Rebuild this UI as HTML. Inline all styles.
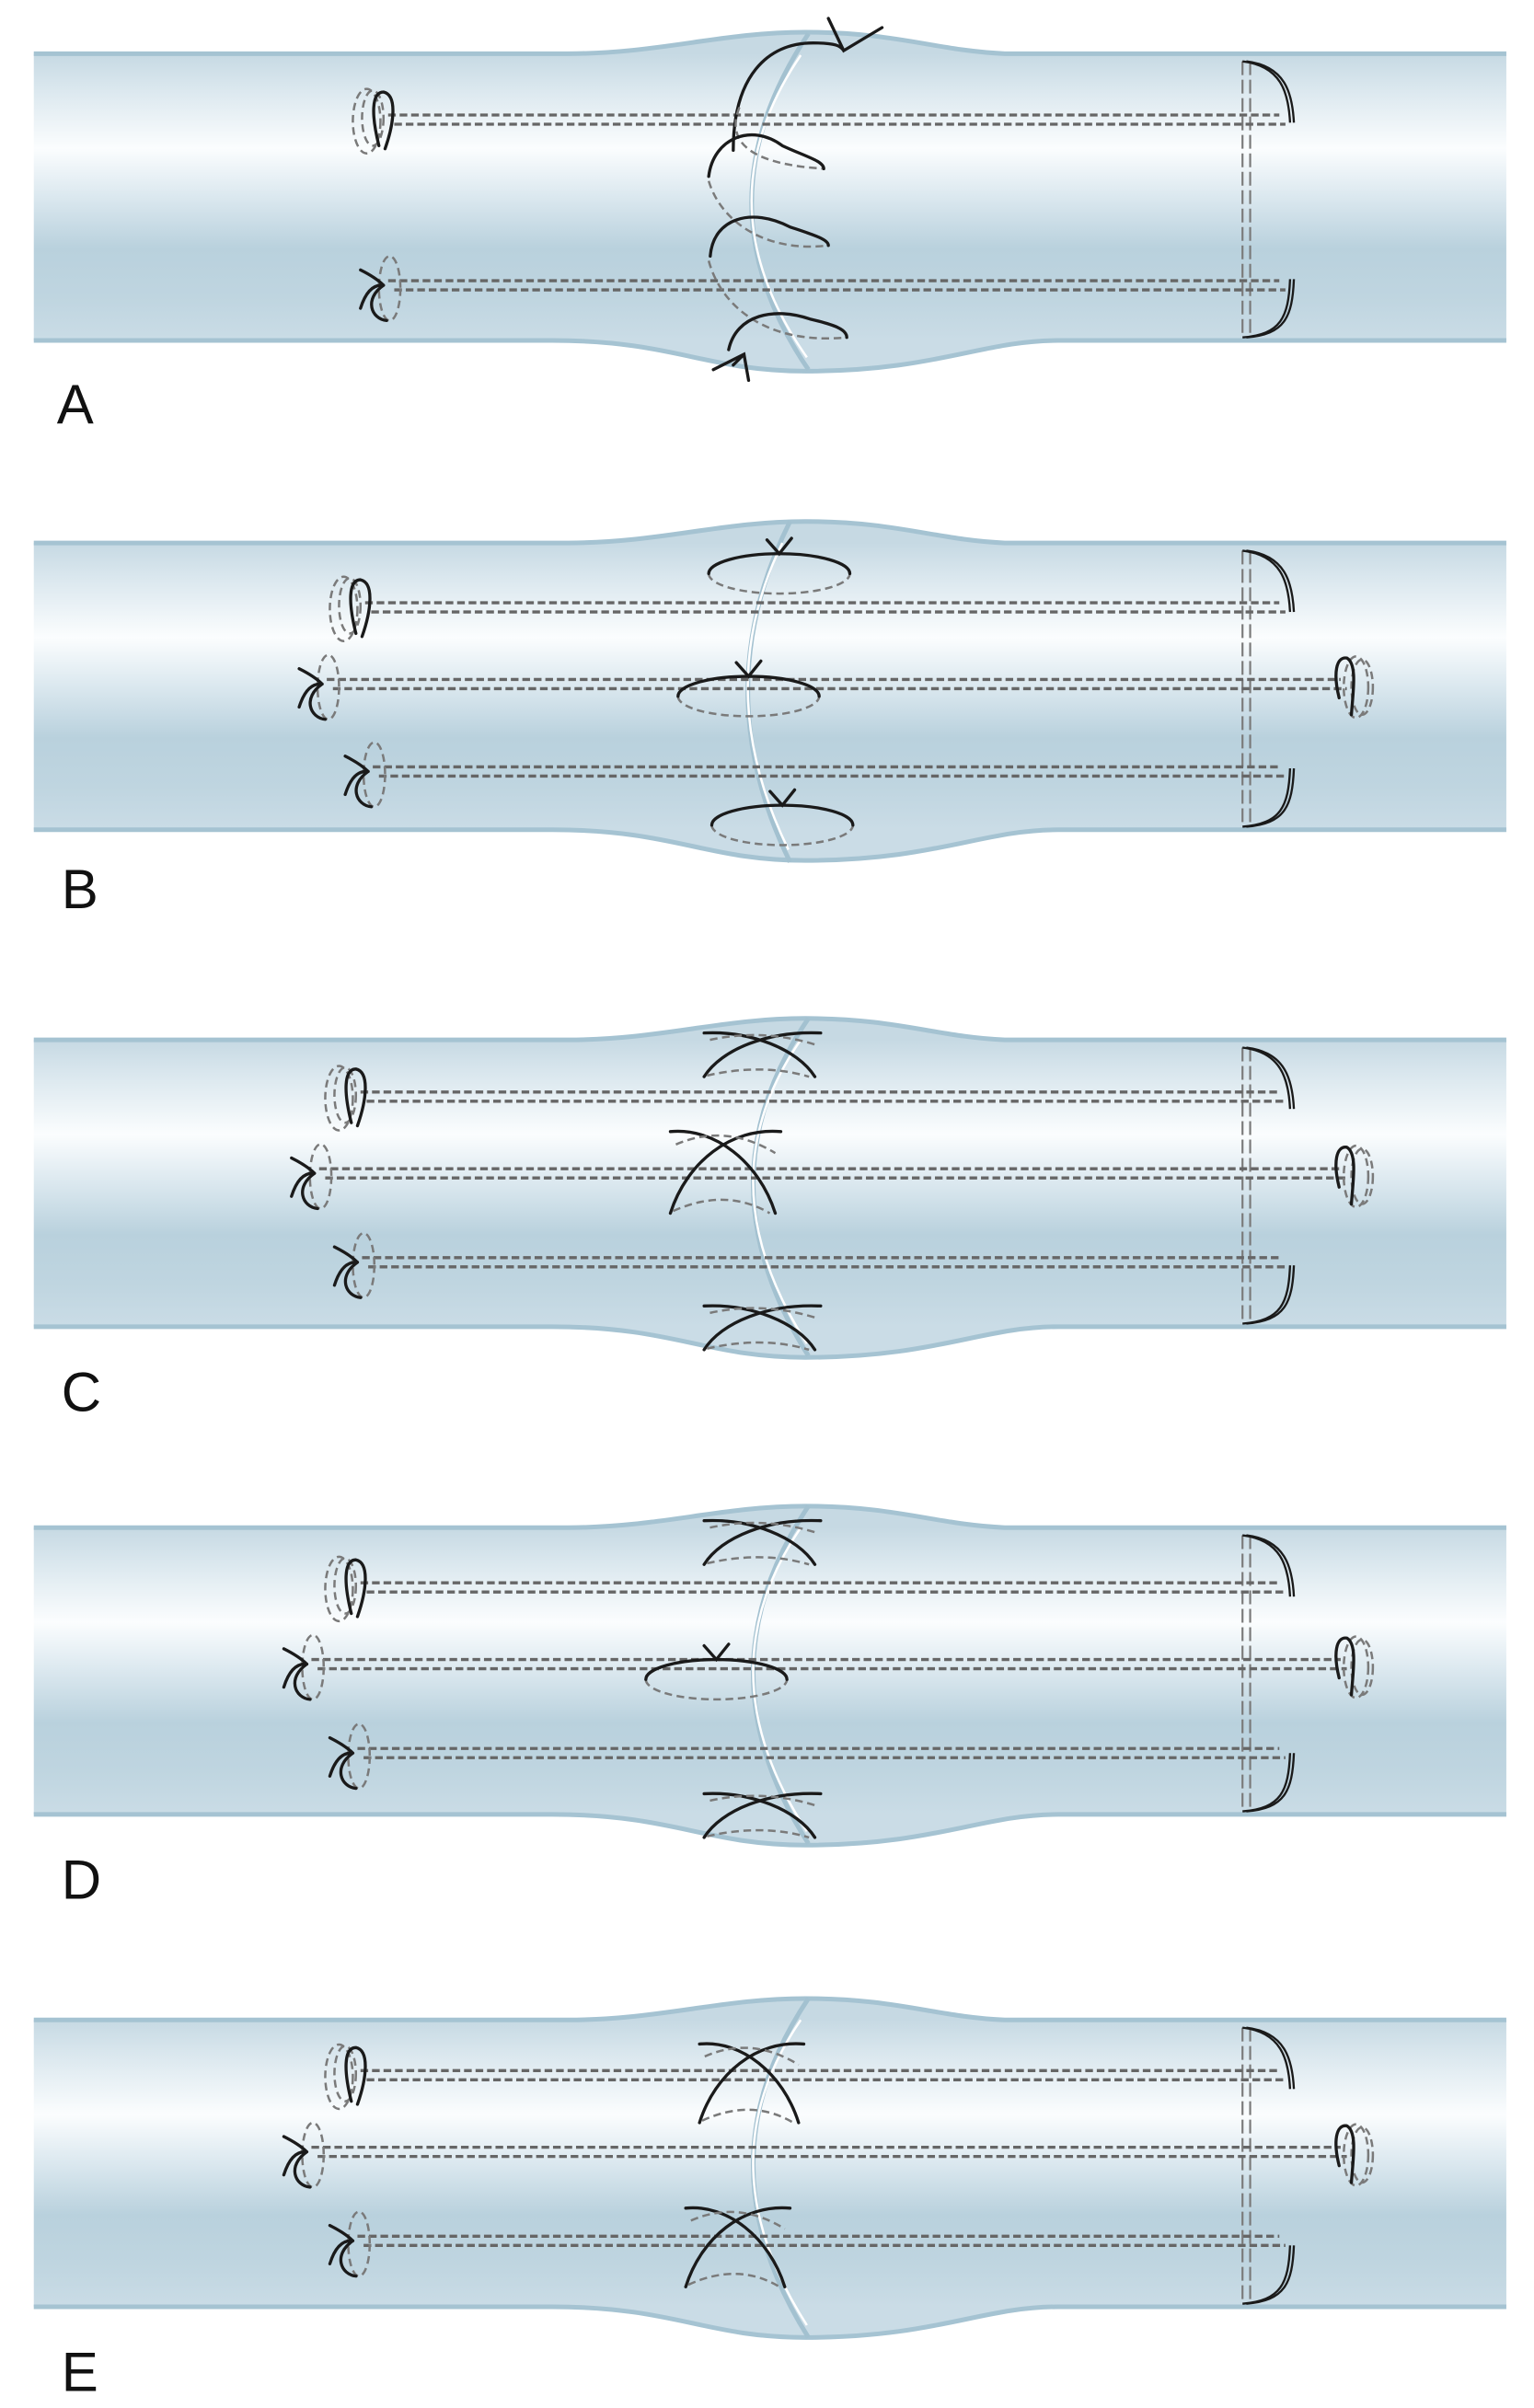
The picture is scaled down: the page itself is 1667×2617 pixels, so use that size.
<!DOCTYPE html>
<html><head><meta charset="utf-8">
<style>
html,body{margin:0;padding:0;background:#fff;}
svg{display:block;}
</style></head>
<body>
<svg id="s" width="1667" height="2617" viewBox="0 0 1000 1570" xmlns="http://www.w3.org/2000/svg">
<defs></defs>
<g id="g"></g>
<g font-family="Liberation Sans, sans-serif" font-size="36" fill="#111">
<text x="37" y="276">A</text>
<text x="40" y="592">B</text>
<text x="40" y="920">C</text>
<text x="40" y="1238">D</text>
<text x="40" y="1559">E</text>
</g>
</svg>
<script>
var NS="http://www.w3.org/2000/svg";
var g=document.getElementById('g'),defs=document.querySelector('defs');
function el(t,a,p){var e=document.createElementNS(NS,t);for(var k in a)e.setAttribute(k,a[k]);(p||g).appendChild(e);return e;}
var DASH={fill:"none",stroke:"#666","stroke-width":2,"stroke-dasharray":"5 2.5"};
var DASHL={fill:"none",stroke:"#7a7a7a","stroke-width":1.5,"stroke-dasharray":"5 3"};
var BLK={fill:"none",stroke:"#1a1a1a","stroke-width":2,"stroke-linecap":"round"};
var panels=[
 {T:35,seam:[527,22,453,133,527,241],lines:[{y:75,lx:245,k:0},{y:183,lx:245,k:1}],st:'A'},
 {T:354,seam:[515,340,460,450,515,562],lines:[{y:393,lx:230,k:0},{y:443,lx:205,k:1,r:1},{y:500,lx:235,k:1}],st:'B'},
 {T:678,seam:[527,664,455,770,527,884],lines:[{y:712,lx:227,k:0},{y:762,lx:200,k:1,r:1},{y:820,lx:228,k:1}],st:'C'},
 {T:996,seam:[527,982,455,1090,527,1202],lines:[{y:1032,lx:227,k:0},{y:1082,lx:195,k:1,r:1},{y:1140,lx:225,k:1}],st:'D'},
 {T:1317,seam:[527,1303,455,1410,527,1524],lines:[{y:1350,lx:227,k:0},{y:1400,lx:195,k:1,r:1},{y:1458,lx:225,k:1}],st:'E'}
];
panels.forEach(function(P,i){
 var T=P.T,B=T+187;
 var lg=el('linearGradient',{id:'gr'+i,x1:0,y1:T,x2:0,y2:B,gradientUnits:"userSpaceOnUse"},defs);
 [[0,"#c6d9e3"],[0.12,"#dae7ee"],[0.33,"#fbfdfe"],[0.5,"#dbe8ef"],[0.68,"#b9d1dd"],[0.85,"#bfd5e0"],[1,"#cadce6"]].forEach(function(s){el('stop',{offset:s[0],'stop-color':s[1]},lg);});
 var top="M22,"+T+" L370,"+T+" C430,"+T+" 470,"+(T-14)+" 525,"+(T-14)+" C585,"+(T-14)+" 610,"+(T-2)+" 655,"+T+" L982,"+T;
 var bot="M982,"+B+" L690,"+B+" C640,"+B+" 610,"+(B+20)+" 525,"+(B+20)+" C460,"+(B+20)+" 440,"+B+" 360,"+B+" L22,"+B;
 el('path',{d:top+" L982,"+B+bot.replace("M982,"+B,"")+" Z",fill:"url(#gr"+i+")"});
 el('path',{d:top,fill:"none",stroke:"#a5c3d2","stroke-width":3});
 el('path',{d:bot,fill:"none",stroke:"#a5c3d2","stroke-width":3});
 var s=P.seam;
 el('path',{d:"M"+s[0]+","+s[1]+" Q"+s[2]+","+s[3]+" "+s[4]+","+s[5],fill:"none",stroke:"#a3c1d0","stroke-width":3});
 el('path',{d:"M"+(s[0]-5)+","+(s[1]+14)+" Q"+(s[2]+3)+","+s[3]+" "+(s[4]-1)+","+(s[5]-8),fill:"none",stroke:"#fff","stroke-width":1.5});
 el('line',{x1:810,y1:T+5,x2:810,y2:B-3,stroke:"#7a7a7a","stroke-width":1.3,"stroke-dasharray":"9 3"});
 el('line',{x1:815,y1:T+5,x2:815,y2:B-3,stroke:"#7a7a7a","stroke-width":1.3,"stroke-dasharray":"9 3"});
 [0,2.5].forEach(function(o){
  el('path',{d:"M"+(810+o)+","+(T+5)+" C"+(835+o)+","+(T+8)+" "+(840+o)+","+(T+25)+" "+(841+o)+","+(T+45),fill:"none",stroke:"#1a1a1a","stroke-width":1.4});
  el('path',{d:"M"+(841+o)+","+(B-40)+" C"+(840+o)+","+(B-15)+" "+(835+o)+","+(B-4)+" "+(810+o)+","+(B-2),fill:"none",stroke:"#1a1a1a","stroke-width":1.4});
 });
 P.lines.forEach(function(L,j){
  var y=L.y, x2=L.r?880:840;
  var a=el('line',{x1:L.lx+8,y1:y,x2:x2-6,y2:y});for(var k in DASH)a.setAttribute(k,DASH[k]);
  var b=el('line',{x1:L.lx+12,y1:y+6,x2:x2-2,y2:y+6});for(var k in DASH)b.setAttribute(k,DASH[k]);
  var lx=L.lx;
  if(!L.k){
   var e1=el('ellipse',{cx:lx-6,cy:y+4,rx:9,ry:21});for(var k in DASHL)e1.setAttribute(k,DASHL[k]);
   var e2=el('ellipse',{cx:lx-2,cy:y+2,rx:7,ry:18});for(var k in DASHL)e2.setAttribute(k,DASHL[k]);
   var p=el('path',{d:"M"+(lx+2)+","+(y+20)+" C"+(lx-3)+","+(y)+" "+(lx-3)+","+(y-15)+" "+(lx+5)+","+(y-15)+" C"+(lx+14)+","+(y-13)+" "+(lx+12)+","+(y+5)+" "+(lx+6)+","+(y+22)});for(var k in BLK)p.setAttribute(k,BLK[k]);
  }else{
   var e1=el('ellipse',{cx:lx+9,cy:y+5,rx:7,ry:21});for(var k in DASHL)e1.setAttribute(k,DASHL[k]);
   var p=el('path',{d:"M"+(lx-10)+","+(y-7)+" Q"+(lx)+","+(y-2)+" "+(lx+5)+","+(y+3)+" M"+(lx-10)+","+(y+18)+" Q"+(lx-5)+","+(y+2)+" "+(lx+5)+","+(y+3)+" M"+(lx+5)+","+(y+3)+" C"+(lx-8)+","+(y+12)+" "+(lx-3)+","+(y+25)+" "+(lx+7)+","+(y+26)});for(var k in BLK)p.setAttribute(k,BLK[k]);
  }
  if(L.r){
   var rx=876;
   var e3=el('ellipse',{cx:rx+8,cy:y+5,rx:8,ry:20});for(var k in DASHL)e3.setAttribute(k,DASHL[k]);
   var e4=el('ellipse',{cx:rx+12,cy:y+5,rx:7,ry:18});for(var k in DASHL)e4.setAttribute(k,DASHL[k]);
   var p2=el('path',{d:"M"+(rx-3)+","+(y+12)+" C"+(rx-7)+","+(y-4)+" "+(rx-5)+","+(y-15)+" "+(rx+2)+","+(y-14)+" C"+(rx+9)+","+(y-10)+" "+(rx+6)+","+(y+8)+" "+(rx+5)+","+(y+23)});for(var k in BLK)p2.setAttribute(k,BLK[k]);
  }
 });
 function bk(d){var p=el('path',{d:d});for(var k in BLK)p.setAttribute(k,BLK[k]);}
 function dg(d){var p=el('path',{d:d});for(var k in DASHL)p.setAttribute(k,DASHL[k]);}
 function X(cx,cy,w,h){
  bk("M"+(cx-w)+","+(cy+h)+" C"+(cx-w*0.7)+","+(cy-h*0.2)+" "+(cx+w*0.1)+","+(cy-h)+" "+(cx+w)+","+(cy-h*0.9));
  bk("M"+(cx+w*0.9)+","+(cy+h)+" C"+(cx+w*0.6)+","+(cy-h*0.2)+" "+(cx-w*0.2)+","+(cy-h)+" "+(cx-w)+","+(cy-h*0.9));
  dg("M"+(cx-w*0.9)+","+(cy-h*0.6)+" Q"+cx+","+(cy-h*1.1)+" "+(cx+w*0.9)+","+(cy-h*0.4));
  dg("M"+(cx-w*0.95)+","+(cy+h*0.95)+" Q"+cx+","+(cy+h*0.4)+" "+(cx+w*0.8)+","+(cy+h));
 }
 function Ov(cx,cy){
  dg("M"+(cx-46)+","+cy+" A46,13 0 0 0 "+(cx+46)+","+cy);
  bk("M"+(cx-46)+","+cy+" A46,13 0 0 1 "+(cx+46)+","+cy);
  var ty=cy-13;
  bk("M"+(cx-8)+","+(ty-9)+" L"+cx+","+ty+" L"+(cx+8)+","+(ty-10));
 }
 if(P.st=='A'){
  bk("M478,98 C478,50 500,28 530,28 C545,28 548,30 550,33 M540,12 L550,33 L575,18");
  dg("M482,70 C470,100 505,108 537,110");
  bk("M462,115 C465,90 490,80 510,95 C525,102 537,105 537,110");
  dg("M462,118 C470,145 500,165 540,160");
  bk("M463,167 C465,142 490,135 515,148 C530,153 540,156 540,160");
  dg("M462,170 C470,200 500,225 552,220");
  bk("M475,228 C480,205 505,200 528,208 C545,212 552,215 552,220");
  bk("M465,241 L485,231 L488,248 M485,231 L478,238");
 }
 if(P.st=='B'){Ov(508,374);Ov(488,454);Ov(510,538);}
 if(P.st=='C'){X(497,687,38,15);X(473,763,36,28);X(497,865,38,15);}
 if(P.st=='D'){X(497,1005,38,15);Ov(467,1095);X(497,1183,38,15);}
 if(P.st=='E'){X(490,1357,34,27);X(481,1464,34,27);}
});
</script>
</body></html>
